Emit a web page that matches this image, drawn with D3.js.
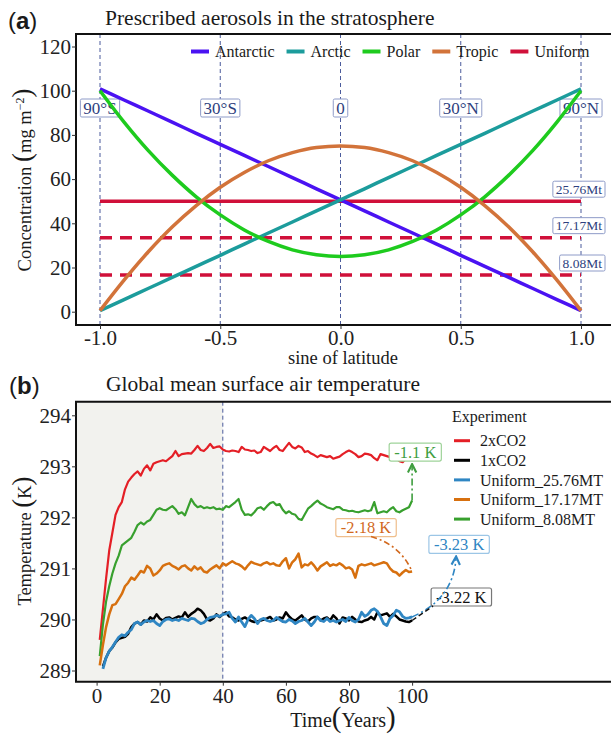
<!DOCTYPE html>
<html><head><meta charset="utf-8">
<script src="https://cdn.jsdelivr.net/npm/d3@7"></script>
<style>body{margin:0;background:#fff} svg{display:block} text{font-family:"Liberation Serif",serif;fill:#1a1a1a}</style>
</head><body><svg id="c" width="611" height="736"></svg>
<script>
// ---------- Panel (a) data ----------
const sineLat = [-1,-0.9,-0.8,-0.7,-0.6,-0.5,-0.4,-0.3,-0.2,-0.1,0,0.1,0.2,0.3,0.4,0.5,0.6,0.7,0.8,0.9,1];
const antarctic = [100.8,95.8,90.8,85.8,80.7,75.7,70.7,65.7,60.7,55.6,50.6,45.6,40.6,35.6,30.6,25.5,20.5,15.5,10.5,5.5,0.5];
const arctic    = [0.5,5.5,10.5,15.5,20.5,25.5,30.6,35.6,40.6,45.6,50.6,55.6,60.7,65.7,70.7,75.7,80.7,85.8,90.8,95.8,100.8];
const polar     = [100,85.8,73,61.8,52,43.8,37,31.8,28,25.8,25,25.8,28,31.8,37,43.8,52,61.8,73,85.8,100];
const tropic    = [0.5,14.3,27,38.3,48,56.3,63,68.3,72,74.3,75,74.3,72,68.3,63,56.3,48,38.3,27,14.3,0.5];
const uniformLevels = [50, 33.5, 16.6];
const uniformLabels = ["25.76Mt","17.17Mt","8.08Mt"];
const seriesNamesA = ["Antarctic","Arctic","Polar","Tropic","Uniform"];
const seriesColorsA = ["#4a12f2","#1c9c9c","#1ecb1e","#d2733a","#d0103a"];
const latTicks = [-1,-0.5,0,0.5,1];
const latTickLabels = ["-1.0","-0.5","0.0","0.5","1.0"];
const latLabels = ["90°S","30°S","0","30°N","90°N"];
const concTicks = [0,20,40,60,80,100,120];

// ---------- Panel (b) data ----------
const red2x = [289.6,290.2,290.8,291.35,291.7,292.05,292.2,292.3,292.55,292.7,292.78,292.85,292.9,292.82,292.95,293.02,292.92,293.05,293.08,293.1,
293.12,293.1,293.15,293.2,293.3,293.2,293.24,293.25,293.26,293.25,293.32,293.4,293.32,293.3,293.36,293.44,293.36,293.38,293.39,293.33,
293.3,293.29,293.31,293.3,293.28,293.38,293.33,293.32,293.3,293.31,293.26,293.28,293.38,293.34,293.3,293.36,293.4,293.32,293.3,293.38,
293.46,293.38,293.35,293.4,293.37,293.28,293.3,293.25,293.22,293.18,293.22,293.2,293.18,293.2,293.15,293.17,293.19,293.24,293.28,293.31,
293.28,293.24,293.18,293.2,293.25,293.24,293.22,293.16,293.12,293.24,293.22,293.2,293.18,293.2,293.15,293.1,293.08,293.15,293.18,293.15];
const green808 = [289.28,289.9,290.35,290.65,290.9,291.1,291.25,291.45,291.5,291.55,291.6,291.72,291.85,291.9,291.86,291.92,291.95,292.05,292.15,292.18,
292.15,292.14,292.18,292.22,292.16,292.07,292.1,292.04,292.2,292.36,292.26,292.2,292.22,292.18,292.2,292.18,292.2,292.16,292.17,292.15,
292.22,292.2,292.25,292.3,292.36,292.15,292.05,292.06,292.04,292.1,292.18,292.2,292.15,292.22,292.28,292.3,292.24,292.26,292.15,292.08,
292.12,292.07,292.05,291.97,291.95,292.06,292.17,292.22,292.28,292.33,292.27,292.24,292.2,292.18,292.16,292.2,292.2,292.15,292.14,292.12,
292.13,292.11,292.1,292.12,292.14,292.12,292.14,292.3,292.08,292.1,292.12,292.1,292.16,292.2,292.12,292.1,292.14,292.17,292.2,292.33];
const orange1717 = [289.1,289.5,289.85,290.1,290.28,290.3,290.4,290.5,290.65,290.72,290.82,290.78,290.86,290.95,290.92,291.05,291.0,290.86,290.9,290.96,
291.05,291.08,291.1,291.05,291.02,290.98,291.04,291.06,291.0,290.96,291.04,290.98,291.02,290.94,290.92,290.98,291.02,291.06,291.0,291.1,
291.06,291.1,291.14,291.1,291.08,291.04,290.98,291.06,291.13,291.1,291.08,291.06,291.1,291.12,291.08,291.1,291.06,291.05,291.14,291.2,
291.0,291.12,291.18,291.29,291.02,291.08,291.06,291.12,291.05,290.96,291.04,291.08,291.12,291.05,291.08,291.06,291.1,291.06,291.0,291.02,
290.98,290.82,291.05,291.08,291.06,291.08,291.1,291.06,291.08,291.1,291.12,291.1,291.0,290.94,290.92,290.86,290.92,290.97,290.93,290.94];
const black1x = [289.08,289.25,289.38,289.45,289.55,289.62,289.64,289.66,289.72,289.85,289.92,289.95,289.9,289.98,289.96,290.04,290.0,290.1,290.02,
289.98,290.03,290.04,290.0,290.03,290.06,290.04,290.14,290.05,290.11,290.15,290.21,290.18,290.11,290.0,289.98,290.02,290.1,290.05,290.1,
290.14,290.06,290.04,290.0,289.98,290.01,290.04,290.0,289.97,289.95,289.96,289.98,290.0,290.02,290.05,289.98,290.0,290.04,290.02,290.14,
290.06,290.0,289.98,290.03,290.08,290.0,289.96,290.02,290.05,290.05,289.98,290.02,290.04,289.98,290.08,290.02,289.92,290.04,290.02,289.98,
290.05,290.0,289.96,289.95,289.98,290.0,290.05,290.0,290.14,290.08,290.1,290.12,290.05,290.11,290.06,290.0,289.98,289.96,289.95,289.98];
const blue2576 = [289.03,289.25,289.38,289.46,289.56,289.65,289.7,289.68,289.75,289.8,289.92,289.95,289.9,289.95,289.98,289.96,289.98,289.92,289.88,
289.96,290.0,290.01,289.98,290.0,289.98,290.02,290.0,289.98,290.02,290.01,289.96,289.92,289.94,290.0,290.04,290.05,290.08,290.06,290.1,
290.11,290.14,290.02,289.95,290.05,289.95,289.86,290.0,290.08,290.02,289.92,290.0,290.02,289.98,289.96,289.98,290.04,290.0,289.96,289.95,
290.0,289.97,289.92,289.96,289.98,290.02,289.95,289.88,289.95,290.05,289.98,289.96,290.02,289.96,289.98,289.95,289.98,290.0,289.96,290.04,
289.98,289.95,290.0,290.14,290.06,290.1,290.18,290.21,290.16,290.05,289.92,289.88,290.02,290.08,290.18,290.15,290.06,290.02,290.03,290.05];
const startYears = [1,2,2,1,1];
const expNames = ["2xCO2","1xCO2","Uniform_25.76MT","Uniform_17.17MT","Uniform_8.08MT"];
const expColors = ["#e41f26","#000000","#2f86c3","#d7700f","#38a02e"];
const timeTicks = [0,20,40,60,80,100];
const tempTicks = [289,290,291,292,293,294];
const annLabels = ["-1.1 K","-2.18 K","-3.23 K","-3.22 K"];
const annYear = [101,85.4,114.9,115.6];
const annTemp = [293.28,291.8,291.47,290.44];
const annColors = ["#3f9e3f","#d2691e","#2f86c3","#111111"];
const annBorders = ["#9fd39a","#efbe8c","#9cc6e6","#777777"];

const svg = d3.select("#c");
const serif = '"Liberation Serif",serif';

// ================= Panel (a) =================
const xA = d3.scaleLinear().domain([-1,1]).range([100,581]);
const yA = d3.scaleLinear().domain([0,120]).range([311.7,46.5]);
const A = {l:76, t:34, b:325, r:640};

svg.append("text").attr("x",8).attr("y",29).style("font-family",'"Liberation Sans",Arial,sans-serif').style("font-size","24px")
  .call(t=>{t.append("tspan").text("(");t.append("tspan").style("font-weight","bold").text("a");t.append("tspan").text(")");});
svg.append("text").attr("x",105).attr("y",25).style("font-size","21.5px").text("Prescribed aerosols in the stratosphere");

// vertical dashed lines
const gA = svg.append("g");
gA.selectAll("line.v").data(latTicks).join("line")
  .attr("x1",d=>xA(d)).attr("x2",d=>xA(d)).attr("y1",A.t).attr("y2",A.b)
  .attr("stroke","#4b5b9c").attr("stroke-width",1).attr("stroke-dasharray","4,3");

// latitude labels
latTicks.forEach((d,i)=>{
  const g = gA.append("g");
  const t = g.append("text").attr("x",xA(d)).attr("y",108).attr("dy","0.35em").attr("text-anchor","middle")
    .style("font-size","17px").style("fill","#2e3f7e").text(latLabels[i]);
  const w = t.node().getComputedTextLength();
  g.insert("rect","text").attr("x",xA(d)-w/2-3).attr("y",99).attr("width",w+6).attr("height",18).attr("rx",1.5)
    .attr("fill","#fff").attr("stroke","#8e9bc8").attr("stroke-width",1);
});
// uniform labels
uniformLevels.forEach((v,i)=>{
  const g = gA.append("g");
  const t = g.append("text").attr("x",602).attr("y",yA(v)-12).attr("dy","0.35em").attr("text-anchor","end")
    .style("font-size","13.5px").style("fill","#2e3f7e").text(uniformLabels[i]);
  const w = t.node().getComputedTextLength();
  g.insert("rect","text").attr("x",602-w-3).attr("y",yA(v)-20).attr("width",w+6).attr("height",16).attr("rx",1.5)
    .attr("fill","#fff").attr("stroke","#8e9bc8").attr("stroke-width",1);
});

// series lines
const lineA = d3.line().x((d,i)=>xA(sineLat[i])).y(d=>yA(d)).curve(d3.curveMonotoneX);
uniformLevels.forEach((v,i)=>{
  gA.append("line").attr("x1",xA(-1)).attr("x2",xA(1)).attr("y1",yA(v)).attr("y2",yA(v))
    .attr("stroke",seriesColorsA[4]).attr("stroke-width",3.5).attr("stroke-dasharray",i===0?null:"12,8");
});
[antarctic,arctic,polar,tropic].forEach((s,i)=>{
  gA.append("path").attr("d",lineA(s)).attr("fill","none").attr("stroke",seriesColorsA[i]).attr("stroke-width",3.5);
});

// frame & axes
svg.append("path").attr("d",`M${A.r},${A.t}H${A.l}V${A.b}H${A.r}`).attr("fill","none").attr("stroke","#111").attr("stroke-width",2);
const axA = svg.append("g").attr("transform",`translate(0,${A.b})`)
  .call(d3.axisBottom(xA).tickValues(latTicks).tickFormat((d,i)=>latTickLabels[i]).tickSize(4).tickPadding(1));
const ayA = svg.append("g").attr("transform",`translate(${A.l},0)`)
  .call(d3.axisLeft(yA).tickValues(concTicks).tickFormat(d3.format("d")).tickSize(4).tickPadding(1));
[axA,ayA].forEach(a=>{a.select(".domain").remove();a.selectAll("line").attr("stroke","#333");
  a.selectAll("text").style("font-family",serif).style("font-size","21px").style("fill","#222");});

// legend (a)
let lx = 191;
seriesNamesA.forEach((n,i)=>{
  svg.append("line").attr("x1",lx).attr("x2",lx+18).attr("y1",51.5).attr("y2",51.5).attr("stroke",seriesColorsA[i]).attr("stroke-width",4);
  const t = svg.append("text").attr("x",lx+24).attr("y",51.5).attr("dy","0.35em").style("font-size","16px").text(n);
  lx += 24 + t.node().getComputedTextLength() + 12;
});

// axis titles (a)
svg.append("text").attr("x",343).attr("y",364).attr("text-anchor","middle").style("font-size","18.5px").text("sine of latitude");
svg.append("text").attr("transform","translate(31,180) rotate(-90)").attr("text-anchor","middle").style("font-size","18.5px")
  .call(t=>{t.append("tspan").text("Concentration ");t.append("tspan").style("font-size","27px").text("(");
    t.append("tspan").text("mg m");t.append("tspan").attr("baseline-shift","super").style("font-size","12px").text("−2");
    t.append("tspan").style("font-size","27px").text(")");});

// ================= Panel (b) =================
const xB = d3.scaleLinear().domain([0,100]).range([96.6,412.1]);
const yB = d3.scaleLinear().domain([289,294]).range([670.5,415.3]);
const B = {l:76, t:401.7, b:681.7, r:640};

svg.append("text").attr("x",9).attr("y",394).style("font-family",'"Liberation Sans",Arial,sans-serif').style("font-size","24px")
  .call(t=>{t.append("tspan").text("(");t.append("tspan").style("font-weight","bold").text("b");t.append("tspan").text(")");});
svg.append("text").attr("x",106).attr("y",391).style("font-size","21.5px").text("Global mean surface air temperature");

const gB = svg.append("g");
gB.append("rect").attr("x",B.l).attr("y",B.t).attr("width",xB(40)-B.l).attr("height",B.b-B.t).attr("fill","#f2f2ee");
gB.append("line").attr("x1",xB(40)).attr("x2",xB(40)).attr("y1",B.t).attr("y2",B.b)
  .attr("stroke","#4b5b9c").attr("stroke-width",1).attr("stroke-dasharray","4,3");

const series = [red2x, black1x, blue2576, orange1717, green808];
const drawOrder = [0,4,3,1,2];
const lineB = (s,k)=>d3.line().x((d,i)=>xB(startYears[k]+i)).y(d=>yB(d))(s);
const widths = [2.2,2.5,2.8,2.5,2.2];
drawOrder.forEach(k=>{
  gB.append("path").attr("d",lineB(series[k],k)).attr("fill","none").attr("stroke",expColors[k])
    .attr("stroke-width",widths[k]).attr("stroke-linejoin","round");
});

// annotations
const defs = svg.append("defs");
annColors.forEach((c,i)=>{
  defs.append("marker").attr("id","ah"+i).attr("viewBox","0 0 8 8").attr("refX",7).attr("refY",4)
    .attr("markerWidth",7).attr("markerHeight",7).attr("orient","auto")
    .append("path").attr("d","M1,1L7,4L1,7").attr("fill","none").attr("stroke",c).attr("stroke-width",1.5);
});
const boxes = annLabels.map((lab,i)=>{
  const cx = xB(annYear[i]), cy = yB(annTemp[i]);
  const g = gB.append("g");
  const t = g.append("text").attr("x",cx).attr("y",cy).attr("dy","0.35em").attr("text-anchor","middle")
    .style("font-size","16.5px").style("fill",annColors[i]).text(lab);
  const w = t.node().getComputedTextLength();
  g.insert("rect","text").attr("x",cx-w/2-5).attr("y",cy-9).attr("width",w+10).attr("height",18).attr("rx",2)
    .attr("fill","#fff").attr("stroke",annBorders[i]).attr("stroke-width",1.2);
  return {cx, cy, w, left:cx-w/2-5, bottom:cy+9};
});
const endPt = k=>[xB(startYears[k]+series[k].length-1), yB(series[k][series[k].length-1])];
// green arrow: series 4 -> box 0
{ const [ex,ey]=endPt(4); gB.append("path").attr("d",`M${ex},${ey}L${ex},${boxes[0].bottom+3}`)
  .attr("fill","none").attr("stroke",annColors[0]).attr("stroke-width",1.6).attr("stroke-dasharray","7,3,2,3").attr("marker-end","url(#ah0)"); }
// orange: box 1 -> series 3
{ const [ex,ey]=endPt(3); const sx=boxes[1].cx+5, sy=boxes[1].bottom;
  gB.append("path").attr("d",`M${sx},${sy}Q${ex-12},${sy+8} ${ex},${ey}`)
  .attr("fill","none").attr("stroke",annColors[1]).attr("stroke-width",1.6).attr("stroke-dasharray","6,3,2,3"); }
// blue: series 2 -> box 2
{ const [ex,ey]=endPt(2); const tx=boxes[2].cx-3, ty=boxes[2].bottom+3;
  gB.append("path").attr("d",`M${ex},${ey}Q${tx-2},${ey-18} ${tx},${ty}`)
  .attr("fill","none").attr("stroke",annColors[2]).attr("stroke-width",1.6).attr("stroke-dasharray","7,3,2,3").attr("marker-end","url(#ah2)"); }
// black: series 1 -> box 3
{ const [ex,ey]=endPt(1); gB.append("path").attr("d",`M${ex},${ey}L${boxes[3].left+2},${boxes[3].bottom}`)
  .attr("fill","none").attr("stroke","#111").attr("stroke-width",1.4).attr("stroke-dasharray","5,3"); }

// frame & axes (b)
svg.append("path").attr("d",`M${B.r},${B.t}H${B.l}V${B.b}H${B.r}`).attr("fill","none").attr("stroke","#111").attr("stroke-width",2);
const axB = svg.append("g").attr("transform",`translate(0,${B.b})`)
  .call(d3.axisBottom(xB).tickValues(timeTicks).tickFormat(d3.format("d")).tickSize(4).tickPadding(2));
const ayB = svg.append("g").attr("transform",`translate(${B.l},0)`)
  .call(d3.axisLeft(yB).tickValues(tempTicks).tickFormat(d3.format("d")).tickSize(4).tickPadding(1));
[axB,ayB].forEach(a=>{a.select(".domain").remove();a.selectAll("line").attr("stroke","#333");
  a.selectAll("text").style("font-family",serif).style("font-size","21px").style("fill","#222");});

// legend (b)
svg.append("text").attr("x",452).attr("y",416).attr("dy","0.35em").style("font-size","16px").text("Experiment");
expNames.forEach((n,i)=>{
  const y = 440.7 + i*19.6;
  svg.append("line").attr("x1",454).attr("x2",470).attr("y1",y).attr("y2",y).attr("stroke",expColors[i]).attr("stroke-width",3);
  svg.append("text").attr("x",480).attr("y",y).attr("dy","0.35em").style("font-size","16px").text(n);
});

// axis titles (b)
svg.append("text").attr("x",343).attr("y",727).attr("text-anchor","middle").style("font-size","20px")
  .call(t=>{t.append("tspan").text("Time");t.append("tspan").style("font-size","29px").text("(");
    t.append("tspan").text("Years");t.append("tspan").style("font-size","29px").text(")");});
svg.append("text").attr("transform","translate(31,541) rotate(-90)").attr("text-anchor","middle").style("font-size","18.5px")
  .call(t=>{t.append("tspan").text("Temperature ");t.append("tspan").style("font-size","27px").text("(");
    t.append("tspan").text("K");t.append("tspan").style("font-size","27px").text(")");});
</script></body></html>
